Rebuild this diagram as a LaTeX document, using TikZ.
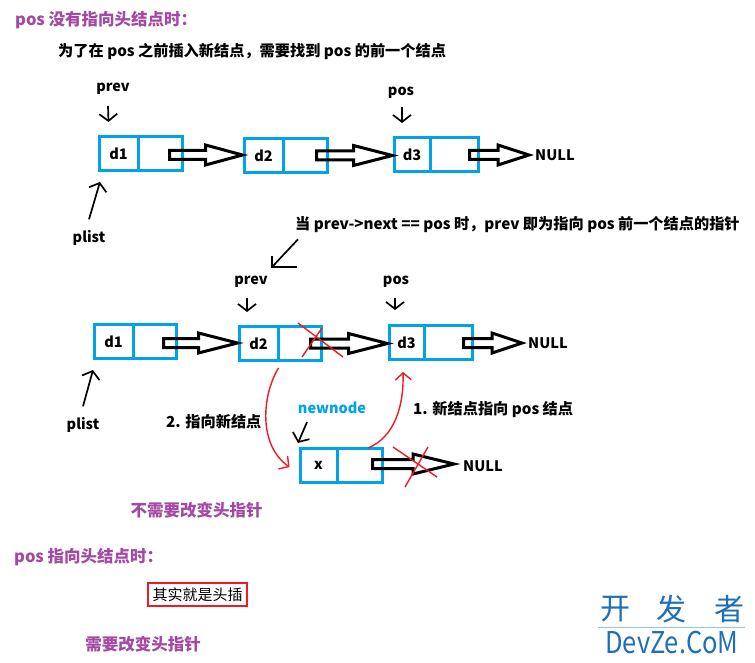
\documentclass[tikz,border=0pt]{standalone}
\usepackage{fontspec}
\setmainfont{Noto Sans CJK SC}
\usetikzlibrary{arrows.meta,calc}
\definecolor{pblue}{HTML}{00A2E8}
\definecolor{pred}{HTML}{ED1C24}
\definecolor{ppurple}{HTML}{A349A4}
\definecolor{wmblue}{HTML}{1F6FB8}
\definecolor{wmline}{HTML}{8CC8F0}
\newcommand{\fatarr}[3]{\draw[fat] let \p1=(#1), \p2=(#2) in (\x1,\y1+4.5pt) -- (\x2-#3,\y1+4.5pt) -- (\x2-#3,\y1+10pt) -- (\x2,\y1) -- (\x2-#3,\y1-10pt) -- (\x2-#3,\y1-4.5pt) -- (\x1,\y1-4.5pt) -- cycle;}
\begin{document}
\begin{tikzpicture}[x=1pt,y=-1pt,
 cell/.style={draw=pblue,line width=3pt,minimum height=34pt,inner sep=0pt,font=\bfseries\fontsize{14.5}{14.5}\selectfont},
 lbl/.style={font=\bfseries\fontsize{14.5}{16}\selectfont,inner sep=0pt},
 sent/.style={font=\bfseries\fontsize{15.2}{17}\selectfont,inner sep=0pt},
 ptitle/.style={font=\bfseries\fontsize{16.5}{18}\selectfont,text=ppurple,inner sep=0pt},
 hand/.style={line width=1.7pt,-{Straight Barb[length=7pt,width=18pt]}},
 redl/.style={draw=pred,line width=1.4pt},
 redarr/.style={redl,-{Straight Barb[length=7pt,width=16pt]}},
 fat/.style={line width=3pt,draw=black,line join=miter}
]
\useasboundingbox[fill=white] (0,0) rectangle (755,663);

% titles
\node[ptitle,anchor=west] (title1) at (15,20) {pos 没有指向头结点时：};
\node[sent,anchor=west] (sub1) at (58,51) {为了在 pos 之前插入新结点，需要找到 pos 的前一个结点};

% row 1
\node[cell,minimum width=39pt] (ad1) at (118.5,153.5) {d1};
\node[cell,minimum width=44pt] (ad1p) at (160,153.5) {};
\node[cell,minimum width=39pt] (ad2) at (263.5,155.5) {d2};
\node[cell,minimum width=44pt] (ad2p) at (305,155.5) {};
\node[cell,minimum width=36pt] (ad3) at (412,154.5) {d3};
\node[cell,minimum width=48pt] (ad3p) at (454,154.5) {};
\node[lbl,anchor=west] (anull) at (535,155) {NULL};
\fatarr{$(ad1p.east)+(-14,1.5)$}{ad2.west}{37pt}
\fatarr{$(ad2p.east)+(-12,0)$}{ad3.west}{39pt}
\fatarr{$(ad3p.east)+(-10,0.5)$}{$(anull.west)+(-6,0)$}{31pt}

\node[lbl] (aprev) at (113,89) {prev};
\node[lbl] (apos) at (401,93) {pos};
\node[lbl] (aplist) at (89,238) {plist};
\draw[hand] ($(aprev.south)+(-5,11)$) -- ($(ad1.north)+(-10,-13)$);
\draw[hand] ($(apos.south)+(1,8)$) -- ($(ad3.north)+(-10,-13)$);
\draw[hand] ($(aplist.north)+(0,-11)$) -- ($(ad1.south)+(-18.5,10)$);

% middle note
\node[sent,anchor=west] (when) at (295,225) {当 prev->next == pos 时，prev 即为指向 pos 前一个结点的指针};

% row 2
\node[cell,minimum width=39pt] (bd1) at (113.5,341.5) {d1};
\node[cell,minimum width=43pt] (bd1p) at (154.5,341.5) {};
\node[cell,minimum width=39pt] (bd2) at (258.5,343.5) {d2};
\node[cell,minimum width=43pt] (bd2p) at (299.5,343.5) {};
\node[cell,minimum width=35pt] (bd3) at (406.5,342.5) {d3};
\node[cell,minimum width=48pt] (bd3p) at (448,342.5) {};
\node[lbl,anchor=west] (bnull) at (528,343) {NULL};
\node[cell,minimum width=37pt] (xd) at (318.5,465.5) {x};
\node[cell,minimum width=45pt] (xp) at (359.5,465.5) {};
\node[lbl,anchor=west] (xnull) at (463,466) {NULL};
\fatarr{$(bd1p.east)+(-14,1.5)$}{bd2.west}{39pt}
\fatarr{$(bd2p.east)+(-12,0)$}{bd3.west}{39pt}
\fatarr{$(bd3p.east)+(-10,0.5)$}{$(bnull.west)+(-6,0)$}{30pt}
\fatarr{$(xp.east)+(-11,-1.5)$}{$(xnull.west)+(-9,0)$}{41pt}

\coordinate (wtail) at ($(when.south west)+(3,6)$);
\node[lbl] (bprev) at (251,282) {prev};
\node[lbl] (bpos) at (396,282) {pos};
\node[lbl] (bplist) at (83,425) {plist};
\coordinate (wtip) at (272,267);
\draw[line width=1.7pt] (wtail) -- (wtip);
\draw[line width=1.7pt] ($(wtip)+(0,-11)$) -- (wtip) -- ($(wtip)+(25,0)$);
\draw[hand] ($(bprev.south)+(-4,10)$) -- ($(bd2.north)+(-11.5,-13)$);
\draw[hand] ($(bpos.south)+(-1,10)$) -- ($(bd3.north)+(-11.5,-14)$);
\draw[hand] ($(bplist.north)+(0,-11)$) -- ($(bd1.south)+(-20.5,10)$);

\node[lbl,text=pblue] (newnode) at (332,408) {newnode};
\draw[hand] ($(newnode.south)+(-25,8)$) -- ($(xd.north)+(-20.5,-4)$);

% red curves and crosses
\coordinate (c2s) at ($(bd2p.south west)+(2,6)$);
\coordinate (c2e) at ($(xd.west)+(-9,1.5)$);
\draw[redarr] (c2s) .. controls (262,395) and (258,445) .. (c2e);
\coordinate (c1s) at ($(xp.north)+(8.5,1)$);
\coordinate (c1e) at ($(bd3.south)+(-3.5,11)$);
\draw[redarr] (c1s) .. controls (395,437) and (404,405) .. (c1e);
\draw[redl] (298,323) -- (343,357);
\draw[redl] (322,328) -- (302,357);
\draw[redl] (393,447) -- (437,477);
\draw[redl] (428,447) -- (405,487);

\node[sent,anchor=west] (lab2) at (166,422) {2. 指向新结点};
\node[sent,anchor=west] (lab1) at (413,410) {1. 新结点指向 pos 结点};

% bottom
\node[ptitle] (noneed) at (196.5,510) {不需要改变头指针};
\node[ptitle,anchor=west] (title2) at (14,557) {pos 指向头结点时：};
\node[draw=pred,line width=2.8pt,minimum width=99pt,minimum height=23pt,inner sep=0pt,font=\fontsize{15}{15}\selectfont] (headins) at (197.5,594.5) {其实就是头插};
\node[ptitle] (need) at (143,644) {需要改变头指针};

% watermark
\node[text=wmblue,font=\fontsize{30}{30}\selectfont,inner sep=0pt] (wm1) at (615,609) {开};
\node[text=wmblue,font=\fontsize{30}{30}\selectfont,inner sep=0pt] (wm2) at (671,609) {发};
\node[text=wmblue,font=\fontsize{30}{30}\selectfont,inner sep=0pt] (wm3) at (729,609) {者};
\draw[wmline,line width=0.8pt] (598,627) -- (745,627);
\node[text=wmblue,font=\fontsize{30}{30}\selectfont,inner sep=0pt,xscale=0.85] (wm4) at (672,642) {DevZe.CoM};
\end{tikzpicture}
\end{document}
